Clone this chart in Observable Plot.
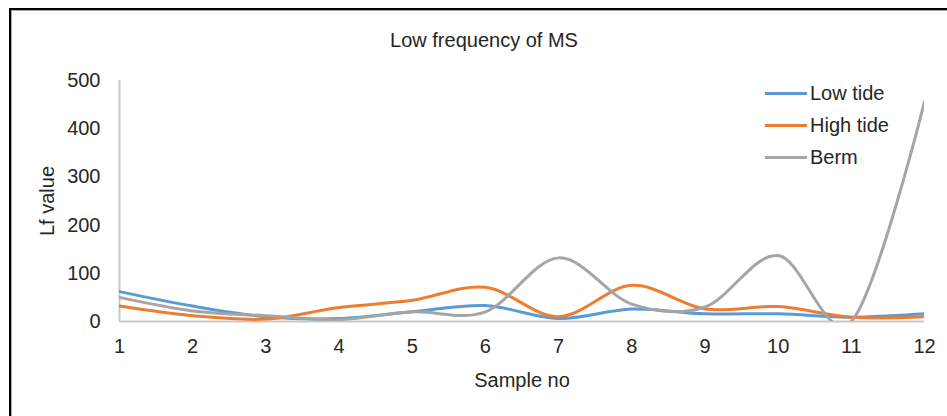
<!DOCTYPE html>
<html><head><meta charset="utf-8">
<script src="https://cdn.jsdelivr.net/npm/d3@7"></script>
<script src="https://cdn.jsdelivr.net/npm/@observablehq/plot@0.6"></script>
<style>
body{margin:0;background:#fff;font-family:"Liberation Sans",Arial,sans-serif;}
#wrap{position:relative;width:947px;height:416px;overflow:hidden;background:#fff;}
#frame{position:absolute;left:9px;top:8px;width:980px;height:440px;border-left:2.5px solid #000;border-top:2.5px solid #000;box-shadow:inset 1px 1px 0 #aaa;pointer-events:none;}
#title{position:absolute;top:29px;left:0;width:968px;text-align:center;font-size:20px;line-height:23px;color:#262626;}
#legend{position:absolute;left:765px;top:77px;}
.row{display:flex;align-items:center;height:32px;font-size:20px;color:#262626;}
.sw{width:42px;height:3px;margin-right:3px;}
#chart{position:absolute;left:0;top:0;}
</style>
</head><body>
<div id="wrap">
  <div id="chart"></div>
  <div id="frame"></div>
  <div id="title">Low frequency of MS</div>
  <div id="legend"></div>
</div>
<script>
const samples = [1,2,3,4,5,6,7,8,9,10,11,12];
const lowTide  = [62, 32, 10, 6, 20, 33, 6, 26, 16, 16, 9, 16];
const highTide = [32, 12, 5, 29, 44, 71, 10, 75, 26, 31, 9, 10];
const berm     = [50, 22, 12, 4, 20, 20, 132, 36, 30, 137, 0, 456];
const seriesNames = ["Low tide", "High tide", "Berm"];
const seriesColors = ["#5B9BD5", "#ED7D31", "#A5A5A5"];
const yTicks = [0,100,200,300,400,500];

const seriesValues = [lowTide, highTide, berm];
const rows = [];
seriesNames.forEach((name, i) => {
  samples.forEach((s, j) => rows.push({sample: s, value: seriesValues[i][j], series: name}));
});

const chart = Plot.plot({
  width: 947, height: 416,
  marginLeft: 119, marginRight: 23, marginTop: 80, marginBottom: 95,
  style: {fontFamily: "'Liberation Sans', Arial, sans-serif", fontSize: "20px", color: "#262626", background: "transparent", overflow: "visible"},
  x: {domain: [1, 12]},
  y: {domain: [0, 500]},
  color: {domain: seriesNames, range: seriesColors},
  marks: [
    Plot.axisY({ticks: yTicks, tickSize: 0, tickPadding: 19, tickFormat: d3.format("d"), label: "Lf value", labelAnchor: "center", labelOffset: 80, labelArrow: "none"}),
    Plot.axisX({ticks: samples, tickSize: 0, tickPadding: 17, tickFormat: d3.format("d"), label: "Sample no", labelAnchor: "center", labelOffset: 65, labelArrow: "none"}),
    Plot.ruleY([0], {stroke: "#C8C8C8", strokeWidth: 2}),
    Plot.ruleX([1], {stroke: "#C8C8C8", strokeWidth: 2}),
    Plot.line(rows, {x: "sample", y: "value", z: "series", stroke: "series", curve: "cardinal", strokeWidth: 3, clip: true})
  ]
});
document.getElementById("chart").appendChild(chart);

const legend = document.getElementById("legend");
seriesNames.forEach((name, i) => {
  const r = document.createElement("div");
  r.className = "row";
  const sw = document.createElement("div");
  sw.className = "sw";
  sw.style.background = seriesColors[i];
  const t = document.createElement("span");
  t.textContent = name;
  r.appendChild(sw); r.appendChild(t);
  legend.appendChild(r);
});
</script>
</body></html>
